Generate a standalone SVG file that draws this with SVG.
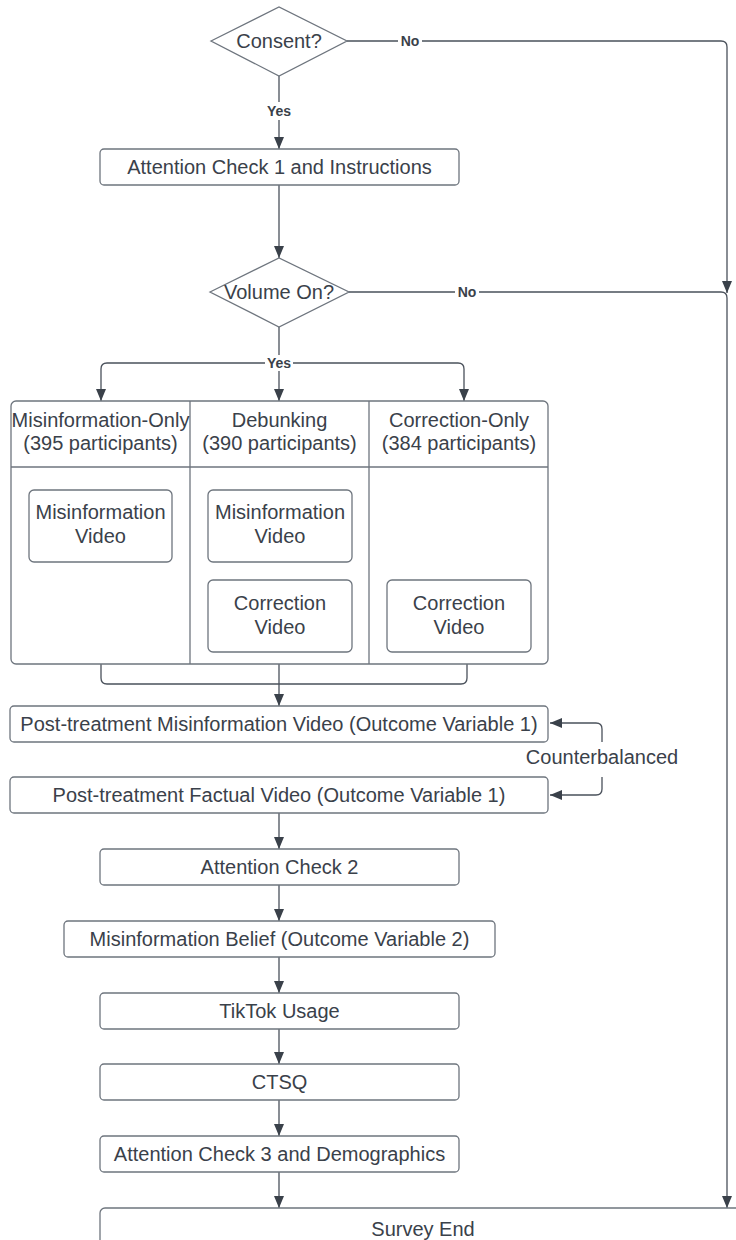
<svg xmlns="http://www.w3.org/2000/svg" width="736" height="1240" viewBox="0 0 736 1240">
<defs>
<style>
.box{fill:#ffffff;stroke:#6e757e;stroke-width:1.3}
.t{font-family:"Liberation Sans",Arial,sans-serif;font-size:20px;fill:#3a414a;text-anchor:middle;dominant-baseline:central}
.lbl{font-family:"Liberation Sans",Arial,sans-serif;font-size:14px;font-weight:bold;fill:#3a414a;text-anchor:middle;dominant-baseline:central}
.ln{fill:none;stroke:#4a515b;stroke-width:1.3}
.arr{fill:none;stroke:#4a515b;stroke-width:1.3;marker-end:url(#ah)}
</style>
<marker id="ah" markerUnits="userSpaceOnUse" markerWidth="12" markerHeight="10" refX="12" refY="5" orient="auto">
<path d="M0,0 L12,5 L0,10 z" fill="#3a414a"/>
</marker>
</defs>
<rect width="736" height="1240" fill="#ffffff"/>

<g id="connectors">
<path class="arr" d="M279,76 V149"/>
<path class="arr" d="M347,41 H721 Q727,41 727,47 V293"/>
<path class="arr" d="M279,185 V258"/>
<path class="arr" d="M349,292 H721 Q727,292 727,298 V1208"/>
<path class="ln" d="M279,327 V363"/>
<path class="arr" d="M279,363 H107 Q101,363 101,369 V401"/>
<path class="arr" d="M279,363 H458 Q464,363 464,369 V401"/>
<path class="arr" d="M279,363 V401"/>
<path class="ln" d="M101,664 V678 Q101,684 107,684 H461 Q467,684 467,678 V664"/>
<path class="ln" d="M279,664 V684"/>
<path class="arr" d="M279,684 V706"/>
<path class="arr" d="M602,742 V729 Q602,723 596,723 H550"/>
<path class="arr" d="M602,777 V789 Q602,795 596,795 H550"/>
<path class="arr" d="M279,813 V849"/>
<path class="arr" d="M279,885 V921"/>
<path class="arr" d="M279,957 V993"/>
<path class="arr" d="M279,1029 V1064"/>
<path class="arr" d="M279,1100 V1136"/>
<path class="arr" d="M279,1172 V1208"/>
<rect x="265" y="102" width="28" height="18" fill="#ffffff"/>
<text class="lbl" x="279" y="111">Yes</text>
<rect x="398" y="33" width="24" height="16" fill="#ffffff"/>
<text class="lbl" x="410" y="41">No</text>
<rect x="455" y="284" width="24" height="16" fill="#ffffff"/>
<text class="lbl" x="467" y="292">No</text>
<rect x="265" y="355" width="28" height="16" fill="#ffffff"/>
<text class="lbl" x="279" y="363">Yes</text>
<text class="t" x="602" y="757">Counterbalanced</text>
</g>

<g id="consent">
<path class="box" d="M211,41 L279,7 L347,41 L279,76 Z"/>
<text class="t" x="279" y="41">Consent?</text>
</g>

<g id="attention1">
<rect class="box" x="100" y="149" width="359" height="36" rx="4"/>
<text class="t" x="279.5" y="167">Attention Check 1 and Instructions</text>
</g>

<g id="volume">
<path class="box" d="M210,292 L279,258 L349,292 L279,327 Z"/>
<text class="t" x="279" y="292">Volume On?</text>
</g>

<g id="conditions">
<rect class="box" x="11" y="401" width="537" height="263" rx="5"/>
<line class="box" x1="11" y1="467" x2="548" y2="467"/>
<line class="box" x1="190" y1="401" x2="190" y2="664"/>
<line class="box" x1="369" y1="401" x2="369" y2="664"/>
<text class="t" x="100.5" y="420">Misinformation-Only</text>
<text class="t" x="100.5" y="443">(395 participants)</text>
<text class="t" x="279.5" y="420">Debunking</text>
<text class="t" x="279.5" y="443">(390 participants)</text>
<text class="t" x="459" y="420">Correction-Only</text>
<text class="t" x="459" y="443">(384 participants)</text>
</g>

<g id="misinfo-video-1">
<rect class="box" x="29" y="490" width="143" height="72" rx="5"/>
<text class="t" x="100.5" y="512">Misinformation</text>
<text class="t" x="100.5" y="536">Video</text>
</g>
<g id="misinfo-video-2">
<rect class="box" x="208" y="490" width="144" height="72" rx="5"/>
<text class="t" x="280" y="512">Misinformation</text>
<text class="t" x="280" y="536">Video</text>
</g>
<g id="correction-video-2">
<rect class="box" x="208" y="580" width="144" height="72" rx="5"/>
<text class="t" x="280" y="603">Correction</text>
<text class="t" x="280" y="627">Video</text>
</g>
<g id="correction-video-3">
<rect class="box" x="387" y="580" width="144" height="72" rx="5"/>
<text class="t" x="459" y="603">Correction</text>
<text class="t" x="459" y="627">Video</text>
</g>

<g id="post-misinfo">
<rect class="box" x="10" y="706" width="538" height="36" rx="4"/>
<text class="t" x="279" y="724">Post-treatment Misinformation Video (Outcome Variable 1)</text>
</g>
<g id="post-factual">
<rect class="box" x="10" y="777" width="538" height="36" rx="4"/>
<text class="t" x="279" y="795">Post-treatment Factual Video (Outcome Variable 1)</text>
</g>
<g id="attention2">
<rect class="box" x="100" y="849" width="359" height="36" rx="4"/>
<text class="t" x="279.5" y="867">Attention Check 2</text>
</g>
<g id="belief">
<rect class="box" x="64" y="921" width="431" height="36" rx="4"/>
<text class="t" x="279.5" y="939">Misinformation Belief (Outcome Variable 2)</text>
</g>
<g id="tiktok">
<rect class="box" x="100" y="993" width="359" height="36" rx="4"/>
<text class="t" x="279.5" y="1011">TikTok Usage</text>
</g>
<g id="ctsq">
<rect class="box" x="100" y="1064" width="359" height="36" rx="4"/>
<text class="t" x="279.5" y="1082">CTSQ</text>
</g>
<g id="attention3">
<rect class="box" x="100" y="1136" width="359" height="36" rx="4"/>
<text class="t" x="279.5" y="1154">Attention Check 3 and Demographics</text>
</g>
<g id="survey-end">
<rect class="box" x="100" y="1208" width="646" height="50" rx="5"/>
<text class="t" x="423" y="1229">Survey End</text>
</g>
</svg>
